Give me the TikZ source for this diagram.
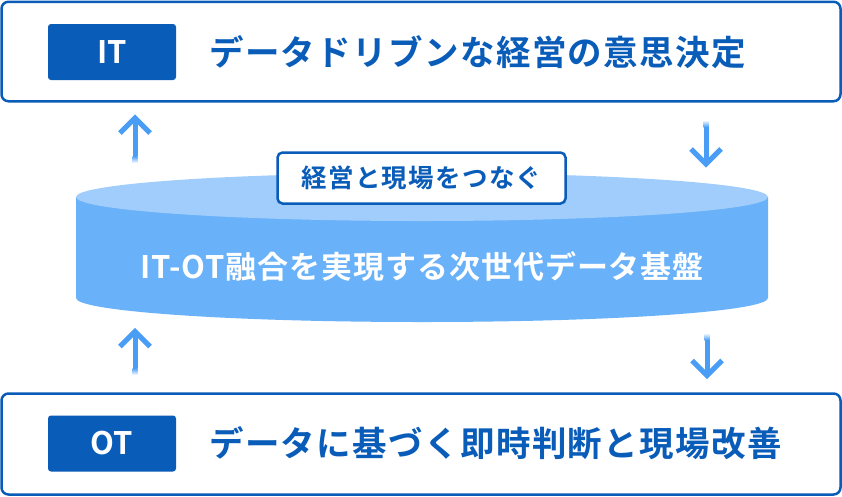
\documentclass[tikz,border=0pt]{standalone}
\usepackage{fontspec}
\setmainfont{Noto Sans CJK JP}[BoldFont={Noto Sans CJK JP Bold}]
\newfontfamily\jptitle{Noto Sans CJK JP Bold}[LetterSpace=4]
\newfontfamily\jpmid{Noto Sans CJK JP Bold}[LetterSpace=3]
\newfontfamily\jplab{Noto Sans CJK JP Bold}[LetterSpace=5]
\newfontfamily\jptag{Noto Sans CJK JP Bold}
\definecolor{dblue}{HTML}{0A5CB9}
\definecolor{cyltop}{HTML}{A0CDFB}
\definecolor{cylside}{HTML}{69B1F8}
\definecolor{arrc}{HTML}{4A9DF5}
\tikzset{
  panel/.style={draw=dblue, line width=2.5pt, rounded corners=7pt, fill=white,
    minimum width=839pt, inner sep=0pt},
  tagbox/.style={fill=dblue, rounded corners=3pt, minimum width=128pt,
    minimum height=56pt, inner sep=0pt, text=white,
    font=\jptag\fontsize{31pt}{31pt}\selectfont},
  title/.style={anchor=west, inner sep=0pt, text=dblue,
    font=\jptitle\fontsize{34.5pt}{34.5pt}\selectfont},
  midtext/.style={inner sep=0pt, text=white,
    font=\jpmid\fontsize{31pt}{31pt}\selectfont},
  labbox/.style={draw=dblue, line width=2.5pt, rounded corners=5pt, fill=white,
    minimum width=288pt, minimum height=51pt, inner sep=0pt, text=dblue,
    font=\jplab\fontsize{25.5pt}{25.5pt}\selectfont},
  arrshaft/.style={draw=arrc, line width=5pt},
  arrhead/.style={draw=arrc, line width=5pt, miter limit=10, line join=miter},
}
\begin{document}
\begin{tikzpicture}[x=1pt,y=-1pt]
\useasboundingbox (0,0) rectangle (842,496);
% panels
\node[panel, minimum height=99.5pt] (itpanel) at (421,51.5) {};
\node[panel, minimum height=101pt] (otpanel) at (421,444) {};
\node[tagbox] (ittag) at (112,52) {IT};
\node[tagbox] (ottag) at (112,443.5) {OT};
\node[title] (ittitle) at (209,52) {データドリブンな経営の意思決定};
\node[title] (ottitle) at (209,443.5) {データに基づく即時判断と現場改善};
% cylinder
\fill[cylside] (76,197) -- (76,298)
  arc[start angle=180, end angle=360, x radius=346pt, y radius=24pt]
  -- (768,197) -- cycle;
\fill[cyltop] (422,197) ellipse [x radius=346pt, y radius=24pt];
\node[midtext] (base) at (422,267) {IT-OT融合を実現する次世代データ基盤};
\node[labbox] (link) at (421.5,178) {経営と現場をつなぐ};
% arrows
\coordinate (a1tip) at (135,118);
\coordinate (a1tail) at (135,156);
\draw[arrshaft] (a1tail) -- (a1tip);
\shade[top color=arrc, bottom color=white] (132.5,156) rectangle (137.5,163);
\draw[arrhead] (120,133) -- (a1tip) -- (150,133);

\coordinate (a2tip) at (706,164);
\coordinate (a2tail) at (706,127);
\draw[arrshaft] (a2tail) -- (a2tip);
\shade[top color=white, bottom color=arrc] (703.5,120) rectangle (708.5,127);
\draw[arrhead] (691,149) -- (a2tip) -- (721,149);

\coordinate (a3tip) at (135,331.5);
\coordinate (a3tail) at (135,368);
\draw[arrshaft] (a3tail) -- (a3tip);
\shade[top color=arrc, bottom color=white] (132.5,368) rectangle (137.5,375);
\draw[arrhead] (120,346.5) -- (a3tip) -- (150,346.5);

\coordinate (a4tip) at (707,375.5);
\coordinate (a4tail) at (707,340);
\draw[arrshaft] (a4tail) -- (a4tip);
\shade[top color=white, bottom color=arrc] (704.5,333) rectangle (709.5,340);
\draw[arrhead] (692,360.5) -- (a4tip) -- (722,360.5);
\end{tikzpicture}
\end{document}
